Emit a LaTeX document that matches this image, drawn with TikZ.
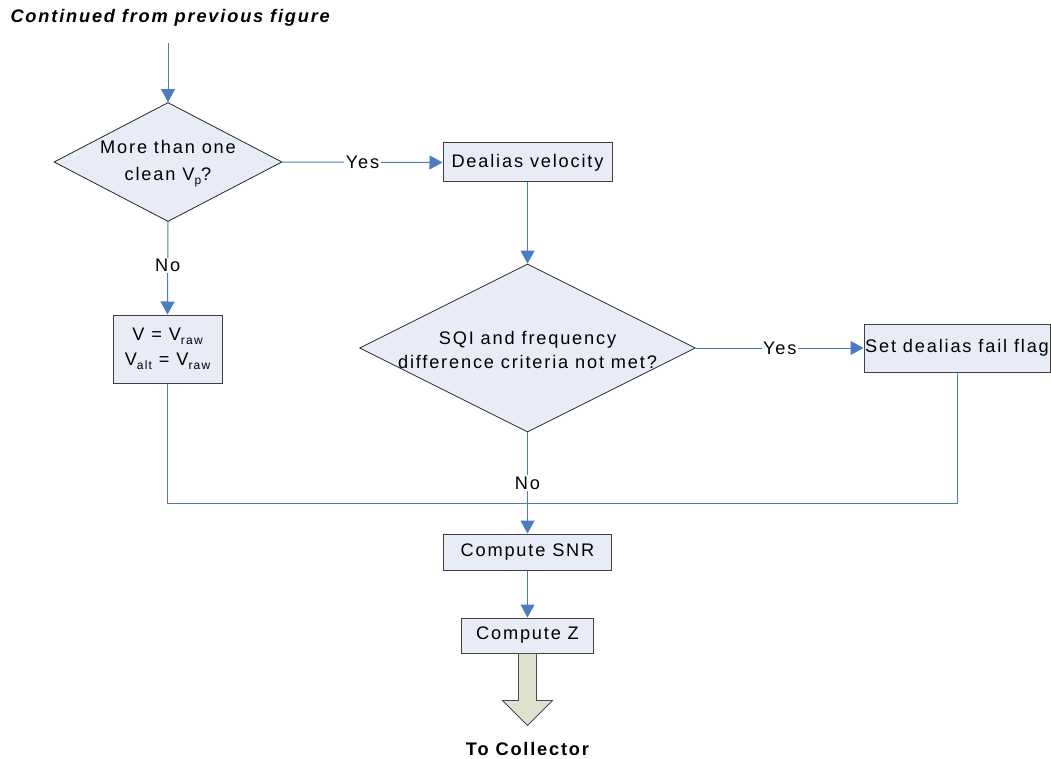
\documentclass[tikz,border=0pt]{standalone}
\usepackage{fontspec}
\setmainfont{Liberation Sans}[LetterSpace=10]
\usetikzlibrary{arrows.meta,shapes.geometric,calc}
\definecolor{boxfill}{HTML}{E7ECF6}
\definecolor{boxline}{HTML}{404040}
\definecolor{lineblue}{HTML}{4A7BC6}
\definecolor{arrowfill}{HTML}{DEE1CB}
\newcommand{\mainfs}{\fontsize{18.2}{24}\selectfont}
\newcommand{\sbs}[1]{\raisebox{-0.4ex}{\fontsize{12}{12}\selectfont #1}}
\begin{document}
\begin{tikzpicture}[x=1pt,y=-1pt,
  every node/.style={font=\mainfs, text=black},
  box/.style={draw=boxline, fill=boxfill, line width=1pt, inner sep=0pt, align=center},
  dia/.style={diamond, draw=black!85, fill=boxfill, line width=0.8pt, inner sep=0pt},
  conn/.style={draw=lineblue, line width=1pt},
  arr/.style={conn, -{Triangle[length=13pt,width=14pt]}},
  lbl/.style={fill=white, inner sep=1.5pt}]
\useasboundingbox (0,0) rectangle (1051,759);

% title
\node[anchor=west, font=\mainfs\bfseries\itshape] (title) at (7,18) {Continued from previous figure};
\coordinate (start) at (168,43);

% diamonds
\node[dia, minimum width=228pt, minimum height=119pt] (d1) at (168,162) {};
\node[align=center, font=\fontsize{18.2}{27}\selectfont] (d1t) at (168,164) {More than one\\clean V\sbs{p}?};
\node[dia, minimum width=336pt, minimum height=168pt] (d2) at (527.5,348) {};
\node[align=center] (d2t) at (527.5,349.5) {SQI and frequency\\difference criteria not met?};

% boxes
\node[box, minimum width=169pt, minimum height=39pt] (dv) at (527.5,162.5) {Dealias velocity};
\node[box, minimum width=186pt, minimum height=48pt] (fail) at (957,348) {Set dealias fail flag};
\node[box, minimum width=109pt, minimum height=68pt, font=\fontsize{18.2}{25}\selectfont] (vb) at (167.5,349) {V = V\sbs{raw}\\V\sbs{alt} = V\sbs{raw}};
\node[box, minimum width=168pt, minimum height=36pt] (snr) at (527.5,552) {Compute SNR};
\node[box, minimum width=132pt, minimum height=35pt] (cz) at (527.5,635.5) {Compute Z};

% connectors
\draw[arr] (start) -- (d1.north);
\draw[arr] (d1.east) -- node[lbl] (y1) {Yes} (dv.west);
\draw[arr] (dv.south) -- (d2.north);
\draw[arr] (d2.east) -- node[lbl] (y2) {Yes} (fail.west);
\draw[arr] (d1.south) -- node[lbl, pos=0.47] (n1) {No} (vb.north);
\coordinate (join) at (527.5,503);
\draw[conn] (vb.south) |- (join);
\draw[conn] (fail.south) |- (join);
\draw[arr] (d2.south) -- node[lbl, pos=0.5] (n2) {No} (snr.north);
\draw[arr] (snr.south) -- (cz.north);

% block arrow
\draw[fill=arrowfill, draw=black!70, line width=0.8pt, shift={(cz.south)}]
  (-9,0) -- (-9,47) -- (-25,47) -- (0,72) -- (25,47) -- (9,47) -- (9,0) -- cycle;
\node[font=\mainfs\bfseries] (coll) at (527.5,749) {To Collector};
\end{tikzpicture}
\end{document}
